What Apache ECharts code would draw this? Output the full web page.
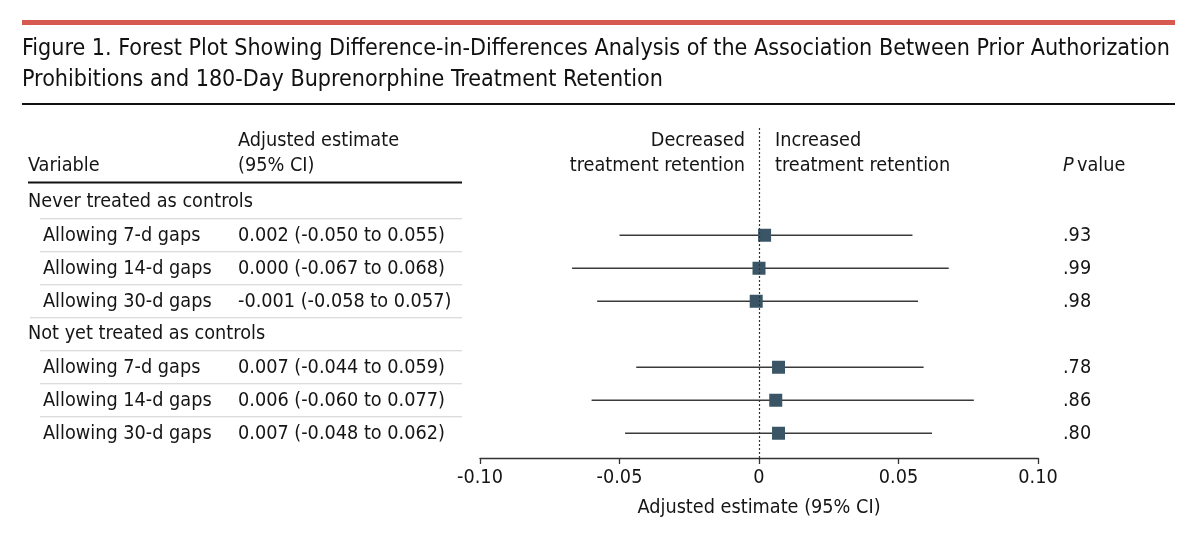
<!DOCTYPE html>
<html>
<head>
<meta charset="utf-8">
<script src="https://cdn.jsdelivr.net/npm/echarts@6/dist/echarts.min.js"></script>
<style>
html,body{margin:0;padding:0;background:#fff;}
#c{width:1199px;height:554px;}
</style>
</head>
<body>
<div id="c"></div>
<script>
const titleLines = ['Figure 1. Forest Plot Showing Difference-in-Differences Analysis of the Association Between Prior Authorization',
                    'Prohibitions and 180-Day Buprenorphine Treatment Retention'];
const groups = ['Never treated as controls', 'Not yet treated as controls'];
const groupRows = [0, 4];
const rowNames = ['Allowing 7-d gaps', 'Allowing 14-d gaps', 'Allowing 30-d gaps',
                  'Allowing 7-d gaps', 'Allowing 14-d gaps', 'Allowing 30-d gaps'];
const rowIndex = [1, 2, 3, 5, 6, 7];
const estimates = [0.002, 0.000, -0.001, 0.007, 0.006, 0.007];
const lower = [-0.050, -0.067, -0.058, -0.044, -0.060, -0.048];
const upper = [0.055, 0.068, 0.057, 0.059, 0.077, 0.062];
const pValues = ['.93', '.99', '.98', '.78', '.86', '.80'];
const xTicks = ['-0.10', '-0.05', '0', '0.05', '0.10'];

const FONT = '"DejaVu Sans Condensed", "Liberation Sans Narrow", "DejaVu Sans", sans-serif';
const FS = 19.7;
const TXT = '#151515';
const fmt = v => v.toFixed(3);
const estText = estimates.map((e, i) => fmt(e) + ' (' + fmt(lower[i]) + ' to ' + fmt(upper[i]) + ')');

const chart = echarts.init(document.getElementById('c'), null, {renderer: 'canvas'});

const option = {
  animation: false,
  backgroundColor: '#fff',
  grid: {left: 480, right: 161, top: 128, bottom: 96},
  xAxis: {
    type: 'value', min: -0.1, max: 0.1, interval: 0.05, position: 'bottom',
    axisLine: {show: true, onZero: false, lineStyle: {color: '#333', width: 1.3}},
    axisTick: {show: true, inside: false, length: 6, lineStyle: {color: '#333', width: 1.3}},
    splitLine: {show: false},
    axisLabel: {fontFamily: FONT, fontSize: FS, color: TXT, margin: 10,
      formatter: (v) => { const k = Math.round((v + 0.1) / 0.05); return xTicks[k]; }},
    name: 'Adjusted estimate (95% CI)', nameLocation: 'middle', nameGap: 40,
    nameTextStyle: {fontFamily: FONT, fontSize: FS, color: TXT}
  },
  yAxis: {type: 'value', min: -2.25, max: 7.75, inverse: true, show: false},
  series: [
    {
      type: 'custom',
      renderItem: function (params, api) {
        const a = api.coord([api.value(0), api.value(2)]);
        const b = api.coord([api.value(1), api.value(2)]);
        return {type: 'line', shape: {x1: a[0], y1: a[1], x2: b[0], y2: b[1]},
                style: {stroke: '#3a3a3a', lineWidth: 1.3}};
      },
      data: lower.map((l, i) => [l, upper[i], rowIndex[i]]),
      encode: {x: [0, 1], y: 2},
      z: 2
    },
    {
      type: 'scatter', symbol: 'rect', symbolSize: 13,
      itemStyle: {color: '#3a5666', opacity: 1},
      data: estimates.map((e, i) => [e, rowIndex[i]]),
      z: 4,
      markLine: {
        silent: true, symbol: 'none', label: {show: false},
        lineStyle: {color: '#333', type: [2, 2], width: 1.2},
        data: [[{coord: [0, -2.25]}, {coord: [0, 7.75]}]]
      }
    }
  ]
};
chart.setOption(option);

const yPix = i => chart.convertToPixel({yAxisIndex: 0}, i);
const g = [];
g.push({type: 'rect', shape: {x: 22, y: 20, width: 1153, height: 5}, style: {fill: '#d65a50'}});
titleLines.forEach((t, k) => g.push({type: 'text', x: 22, y: 49 + 31 * k,
  style: {text: t, font: '23.1px ' + FONT, fill: '#111', textVerticalAlign: 'middle', textAlign: 'left'}}));
g.push({type: 'line', shape: {x1: 22, y1: 104, x2: 1175, y2: 104}, style: {stroke: '#111', lineWidth: 2}});

const txt = (s, x, y, align) => g.push({type: 'text', x: x, y: y,
  style: {text: s, font: FS + 'px ' + FONT, fill: TXT, textAlign: align || 'left', textVerticalAlign: 'middle'}});

const h1 = yPix(-1.85), h2 = yPix(-1.1);
txt('Variable', 28, h2);
txt('Adjusted estimate', 238, h1);
txt('(95% CI)', 238, h2);
txt('Decreased', 745, h1, 'right');
txt('treatment retention', 745, h2, 'right');
txt('Increased', 775, h1);
txt('treatment retention', 775, h2);
g.push({type: 'text', x: 1063, y: h2, style: {rich: {i: {font: 'italic ' + FS + 'px ' + FONT, fill: TXT}, n: {font: FS + 'px ' + FONT, fill: TXT}},
  text: '{i|P} {n|value}', textVerticalAlign: 'middle'}});
g.push({type: 'line', shape: {x1: 28, y1: yPix(-0.6), x2: 462, y2: yPix(-0.6)}, style: {stroke: '#111', lineWidth: 2}});

groups.forEach((s, k) => txt(s, 28, yPix(groupRows[k])));
rowNames.forEach((s, i) => {
  const y = yPix(rowIndex[i]) + 1;
  txt(s, 43, y);
  txt(estText[i], 238, y);
  txt(pValues[i], 1063, y);
});
for (let r = 0; r < 7; r++) {
  const x1 = (r === 3) ? 30 : 40;
  g.push({type: 'line', shape: {x1: x1, y1: yPix(r + 0.5), x2: 462, y2: yPix(r + 0.5)}, style: {stroke: '#d0d0d0', lineWidth: 1.2}});
}
chart.setOption({graphic: g});
</script>
</body>
</html>
